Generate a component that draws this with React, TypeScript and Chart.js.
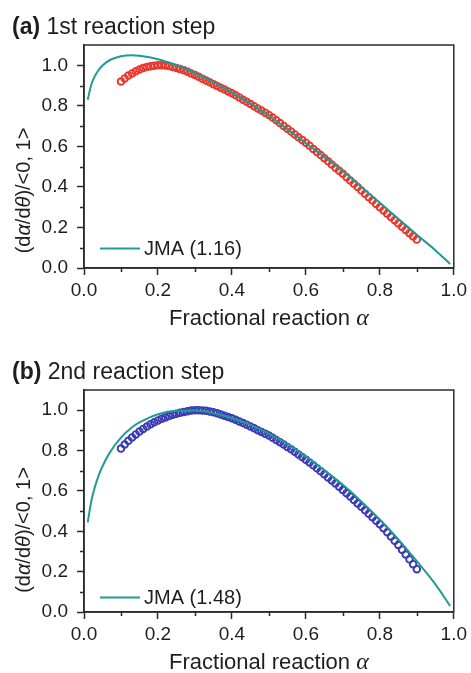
import React, { useEffect, useRef } from 'react';
import { Chart, registerables } from 'chart.js';

Chart.register(...registerables);

// ---------- data ----------
const EXP_ALPHA = [
  0.10, 0.11, 0.12, 0.13, 0.14, 0.15, 0.16, 0.17, 0.18, 0.19,
  0.20, 0.21, 0.22, 0.23, 0.24, 0.25, 0.26, 0.27, 0.28, 0.29,
  0.30, 0.31, 0.32, 0.33, 0.34, 0.35, 0.36, 0.37, 0.38, 0.39,
  0.40, 0.41, 0.42, 0.43, 0.44, 0.45, 0.46, 0.47, 0.48, 0.49,
  0.50, 0.51, 0.52, 0.53, 0.54, 0.55, 0.56, 0.57, 0.58, 0.59,
  0.60, 0.61, 0.62, 0.63, 0.64, 0.65, 0.66, 0.67, 0.68, 0.69,
  0.70, 0.71, 0.72, 0.73, 0.74, 0.75, 0.76, 0.77, 0.78, 0.79,
  0.80, 0.81, 0.82, 0.83, 0.84, 0.85, 0.86, 0.87, 0.88, 0.89,
  0.90,
];

const EXP_A = [
  0.920, 0.935, 0.949, 0.960, 0.970, 0.979, 0.986, 0.991, 0.995, 0.998,
  1.000, 1.000, 0.999, 0.996, 0.992, 0.987, 0.981, 0.975, 0.968, 0.960,
  0.952, 0.943, 0.934, 0.925, 0.916, 0.907, 0.898, 0.889, 0.880, 0.871,
  0.862, 0.852, 0.841, 0.830, 0.820, 0.809, 0.798, 0.787, 0.777, 0.766,
  0.755, 0.742, 0.729, 0.715, 0.701, 0.687, 0.673, 0.659, 0.645, 0.632,
  0.618, 0.603, 0.587, 0.572, 0.557, 0.541, 0.526, 0.511, 0.495, 0.480,
  0.465, 0.448, 0.432, 0.415, 0.399, 0.382, 0.366, 0.349, 0.333, 0.316,
  0.300, 0.284, 0.268, 0.252, 0.236, 0.220, 0.204, 0.188, 0.172, 0.156,
  0.140,
];

const EXP_B = [
  0.810, 0.830, 0.848, 0.865, 0.880, 0.894, 0.907, 0.919, 0.930, 0.940,
  0.949, 0.957, 0.964, 0.971, 0.977, 0.982, 0.987, 0.991, 0.995, 0.998,
  1.000, 1.000, 0.999, 0.997, 0.994, 0.990, 0.985, 0.979, 0.973, 0.966,
  0.960, 0.952, 0.944, 0.936, 0.928, 0.919, 0.910, 0.901, 0.892, 0.883,
  0.874, 0.863, 0.852, 0.841, 0.830, 0.818, 0.806, 0.794, 0.781, 0.768,
  0.755, 0.741, 0.727, 0.712, 0.697, 0.682, 0.667, 0.652, 0.637, 0.621,
  0.605, 0.589, 0.572, 0.555, 0.538, 0.521, 0.504, 0.487, 0.470, 0.452,
  0.435, 0.415, 0.395, 0.374, 0.353, 0.332, 0.309, 0.285, 0.261, 0.237,
  0.212,
];

const JMA_ALPHA = [
  0.01, 0.02, 0.03, 0.04, 0.05, 0.07, 0.10, 0.13, 0.15, 0.20,
  0.25, 0.30, 0.35, 0.40, 0.45, 0.50, 0.55, 0.60, 0.65, 0.70,
  0.75, 0.80, 0.85, 0.90, 0.95, 0.99,
];

const JMA_A = [
  0.830, 0.906, 0.949, 0.978, 0.999, 1.026, 1.045, 1.050, 1.047, 1.030,
  1.000, 0.962, 0.917, 0.866, 0.812, 0.750, 0.684, 0.615, 0.548, 0.478,
  0.400, 0.322, 0.243, 0.164, 0.088, 0.020,
];

const JMA_B = [
  0.444, 0.551, 0.623, 0.678, 0.722, 0.791, 0.864, 0.915, 0.939, 0.980,
  0.997, 0.998, 0.985, 0.961, 0.927, 0.884, 0.833, 0.770, 0.703, 0.630,
  0.548, 0.458, 0.360, 0.252, 0.138, 0.030,
];

const X_TICKS = [0, 0.2, 0.4, 0.6, 0.8, 1.0];
const Y_TICKS = [0, 0.2, 0.4, 0.6, 0.8, 1.0];
const MINOR_TICKS = [0.1, 0.3, 0.5, 0.7, 0.9];

const PANEL_TAGS = ['(a)', '(b)'];
const PANEL_TITLES = [' 1st reaction step', ' 2nd reaction step'];
const LEGEND_LABELS = ['JMA (1.16)', 'JMA (1.48)'];

// ---------- styles ----------
const SANS = '"Liberation Sans", Arial, Helvetica, sans-serif';
const SERIF = '"Liberation Serif", "Times New Roman", serif';
const AXIS = '#2b2b2b';
const TEXT = '#1e1e1e';
const TEAL = '#1f9c94';
const RED = '#e8372c';
const BLUE = '#3a3ab4';

type Seg = { t: string; f: string };

function drawRich(ctx: CanvasRenderingContext2D, segs: Seg[], x: number, y: number, center: boolean) {
  const widths = segs.map((s) => {
    ctx.font = s.f;
    return ctx.measureText(s.t).width;
  });
  const total = widths.reduce((a, b) => a + b, 0);
  let cx = center ? x - total / 2 : x;
  ctx.textAlign = 'left';
  segs.forEach((s, i) => {
    ctx.font = s.f;
    ctx.fillText(s.t, cx, y);
    cx += widths[i];
  });
}

type PanelCfg = {
  idx: number;
  jma: number[];
  exp: number[];
  color: string;
  height: number;
  padTop: number;
  xH: number;
  legendDy: number;
  yTitleDy: number;
};

const PANELS: PanelCfg[] = [
  { idx: 0, jma: JMA_A, exp: EXP_A, color: RED, height: 336, padTop: 45, xH: 68, legendDy: 20, yTitleDy: 34 },
  { idx: 1, jma: JMA_B, exp: EXP_B, color: BLUE, height: 337, padTop: 54, xH: 61, legendDy: 15, yTitleDy: 29 },
];

function makeDecor(p: PanelCfg) {
  return {
    id: 'decor' + p.idx,
    afterDraw(chart: any) {
      const { ctx, chartArea: ca, scales } = chart;
      const xs = scales.x;
      const ys = scales.y;
      ctx.save();
      // frame
      ctx.strokeStyle = AXIS;
      ctx.lineWidth = 1.5;
      ctx.strokeRect(ca.left, ca.top, ca.right - ca.left, ca.bottom - ca.top);
      // minor ticks
      ctx.beginPath();
      MINOR_TICKS.forEach((v) => {
        const px = Math.round(xs.getPixelForValue(v)) + 0.5;
        ctx.moveTo(px, ca.bottom);
        ctx.lineTo(px, ca.bottom + 4);
        const py = Math.round(ys.getPixelForValue(v)) + 0.5;
        ctx.moveTo(ca.left, py);
        ctx.lineTo(ca.left - 4, py);
      });
      ctx.stroke();

      ctx.fillStyle = TEXT;
      ctx.textBaseline = 'alphabetic';
      // panel title
      drawRich(
        ctx,
        [
          { t: PANEL_TAGS[p.idx], f: `bold 23px ${SANS}` },
          { t: PANEL_TITLES[p.idx], f: `23px ${SANS}` },
        ],
        12,
        ca.top - 11,
        false,
      );
      // x title
      drawRich(
        ctx,
        [
          { t: 'Fractional reaction ', f: `22px ${SANS}` },
          { t: 'α', f: `italic 24px ${SERIF}` },
        ],
        (ca.left + ca.right) / 2,
        ca.bottom + 57,
        true,
      );
      // y title
      ctx.save();
      ctx.translate(24, (ca.top + ca.bottom) / 2 + p.yTitleDy);
      ctx.rotate(-Math.PI / 2);
      ctx.textBaseline = 'middle';
      drawRich(
        ctx,
        [
          { t: '(d', f: `20px ${SANS}` },
          { t: 'α', f: `italic 20px ${SANS}` },
          { t: '/d', f: `20px ${SANS}` },
          { t: 'θ', f: `italic 20px ${SANS}` },
          { t: ')/<0, 1>', f: `20px ${SANS}` },
        ],
        0,
        0,
        true,
      );
      ctx.restore();

      // legend (JMA line dataset)
      const ds = chart.data.datasets[0];
      const ly = Math.round(ca.bottom - p.legendDy) + 0.5;
      ctx.strokeStyle = ds.borderColor;
      ctx.lineWidth = 2;
      ctx.beginPath();
      ctx.moveTo(ca.left + 16, ly);
      ctx.lineTo(ca.left + 56, ly);
      ctx.stroke();
      ctx.fillStyle = TEXT;
      ctx.font = `20px ${SANS}`;
      ctx.textBaseline = 'middle';
      ctx.textAlign = 'left';
      ctx.fillText(ds.label, ca.left + 60, ly + 1);
      ctx.restore();
    },
  };
}

function Panel({ cfg }: { cfg: PanelCfg }) {
  const ref = useRef<HTMLCanvasElement | null>(null);
  useEffect(() => {
    if (!ref.current) return;
    const chart = new Chart(ref.current, {
      type: 'line',
      data: {
        datasets: [
          {
            label: LEGEND_LABELS[cfg.idx],
            data: JMA_ALPHA.map((a, i) => ({ x: a, y: cfg.jma[i] })),
            borderColor: TEAL,
            borderWidth: 2,
            pointRadius: 0,
            cubicInterpolationMode: 'monotone',
            fill: false,
          },
          {
            label: 'exp',
            data: EXP_ALPHA.map((a, i) => ({ x: a, y: cfg.exp[i] })),
            showLine: false,
            borderColor: cfg.color,
            backgroundColor: 'rgba(0,0,0,0)',
            pointStyle: 'circle',
            pointRadius: 3.3,
            pointBorderWidth: 1.9,
            pointBorderColor: cfg.color,
            pointBackgroundColor: 'rgba(0,0,0,0)',
          },
        ],
      },
      options: {
        animation: false,
        responsive: false,
        devicePixelRatio: 1,
        layout: { padding: { top: cfg.padTop, right: 14, left: 0, bottom: 0 } },
        plugins: {
          legend: { display: false },
          tooltip: { enabled: false },
          title: { display: false },
        },
        scales: {
          x: {
            type: 'linear',
            min: 0,
            max: 1,
            afterBuildTicks: (s: any) => {
              s.ticks = X_TICKS.map((v) => ({ value: v }));
            },
            afterFit: (s: any) => {
              s.height = cfg.xH;
            },
            ticks: {
              callback: (v: any) => Number(v).toFixed(1),
              font: { family: SANS, size: 19 },
              color: TEXT,
              padding: 4,
              maxRotation: 0,
              autoSkip: false,
            },
            grid: {
              display: true,
              drawOnChartArea: false,
              drawTicks: true,
              tickLength: 7,
              tickColor: AXIS,
              tickWidth: 1.5,
            },
            border: { display: true, color: AXIS, width: 1.5 },
          },
          y: {
            type: 'linear',
            min: 0,
            max: 1.1,
            afterBuildTicks: (s: any) => {
              s.ticks = Y_TICKS.map((v) => ({ value: v }));
            },
            afterFit: (s: any) => {
              s.width = 84;
            },
            ticks: {
              callback: (v: any) => Number(v).toFixed(1),
              font: { family: SANS, size: 19 },
              color: TEXT,
              padding: 9,
              autoSkip: false,
            },
            grid: {
              display: true,
              drawOnChartArea: false,
              drawTicks: true,
              tickLength: 7,
              tickColor: AXIS,
              tickWidth: 1.5,
            },
            border: { display: true, color: AXIS, width: 1.5 },
          },
        },
      } as any,
      plugins: [makeDecor(cfg)],
    });
    return () => chart.destroy();
  }, [cfg]);
  return (
    <canvas
      ref={ref}
      width={471}
      height={cfg.height}
      style={{ display: 'block', width: 471, height: cfg.height }}
    />
  );
}

export default function App() {
  return (
    <div style={{ position: 'absolute', left: 0, top: 0, width: 471, height: 673, background: '#fff' }}>
      {PANELS.map((p) => (
        <Panel key={p.idx} cfg={p} />
      ))}
    </div>
  );
}
